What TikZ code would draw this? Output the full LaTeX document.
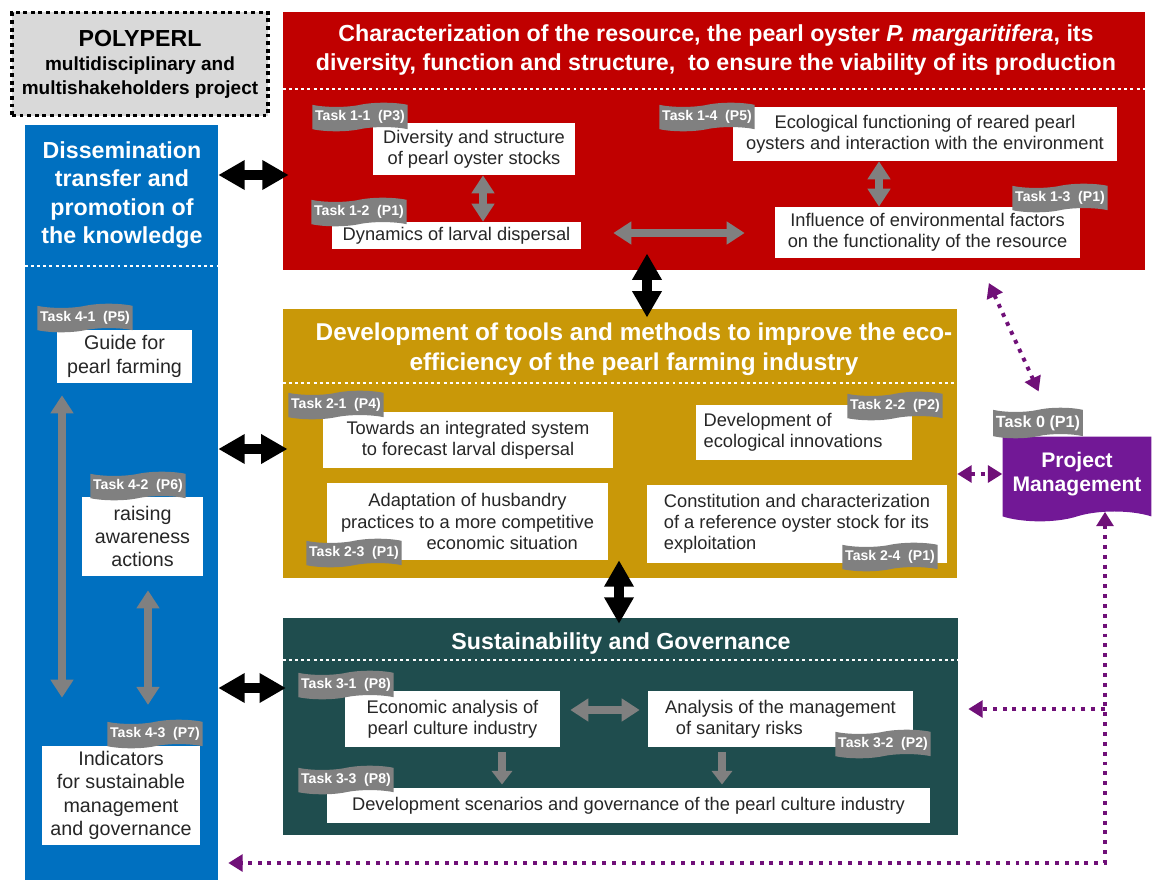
\documentclass[tikz,border=0pt]{standalone}
\usepackage{fontspec}
\setmainfont{Liberation Sans}
\usetikzlibrary{positioning,fit,shapes.symbols,arrows.meta}

\definecolor{resred}{RGB}{192,0,0}
\definecolor{toolgold}{RGB}{201,152,8}
\definecolor{govteal}{RGB}{31,77,78}
\definecolor{dissblue}{RGB}{0,112,192}
\definecolor{pmpurple}{RGB}{114,24,150}
\definecolor{linkpurple}{RGB}{112,16,120}
\definecolor{taggray}{RGB}{128,128,128}
\definecolor{polygray}{RGB}{217,217,217}

\begin{document}
\begin{tikzpicture}[x=0.025cm, y=-0.025cm,
	% Define styles for the panels, boxes, tags and arrows
	panel/.style={fill=#1, inner sep=0pt},
	head text/.style={text=white, align=center, font=\fontsize{16.5}{20}\selectfont\bfseries},
	task box/.style={fill=white, inner sep=0pt, align=center, text=black!85, font=\fontsize{13}{15}\selectfont},
	blue box/.style={task box, font=\fontsize{14}{16.5}\selectfont},
	task tag/.style={tape, tape bend top=in and out, tape bend bottom=in and out, tape bend height=3pt,
		fill=taggray, text=white, inner xsep=2pt, inner ysep=2.5pt, font=\fontsize{10}{11}\selectfont\bfseries},
	sep line/.style={white, line width=2.1pt, dash pattern=on 2.1pt off 2.3pt},
	link arrow/.style={{Triangle[length=0.66cm, width=0.7cm]}-{Triangle[length=0.66cm, width=0.7cm]}, line width=0.27cm, black},
	inner arrow/.style={{Triangle[length=0.45cm, width=0.55cm]}-{Triangle[length=0.45cm, width=0.55cm]}, line width=0.22cm, taggray},
	down arrow/.style={-{Triangle[length=0.34cm, width=0.5cm]}, line width=0.2cm, taggray},
	dot link/.style={linkpurple, line width=2.8pt, dash pattern=on 2.8pt off 4.2pt},
	dot tips/.style={{Triangle[length=0.36cm, width=0.42cm]}-{Triangle[length=0.36cm, width=0.42cm]}}
	]
	\useasboundingbox (0,0) rectangle (1156,880);
	
	% Define and place the panels
	\node[fill=polygray, draw=black, line width=2.8pt, dash pattern=on 2.8pt off 2.6pt, inner sep=0pt,
		minimum width=6.4cm, minimum height=2.575cm, align=center,
		font=\fontsize{13.5}{17}\selectfont\bfseries] (Poly) at (140,64)
		{{\fontsize{16.5}{20}\selectfont POLYPERL}\\multidisciplinary and\\multishakeholders project};
	\node[panel=resred, fit={(283,12)(1145,270)}] (Res) {};
	\node[panel=dissblue, fit={(25,125)(218,880)}] (Diss) {};
	\node[panel=toolgold, fit={(283,309)(957,578)}] (Tools) {};
	\node[panel=govteal, fit={(283,618)(958,835)}] (Gov) {};
	
	% Panel titles and dotted separators
	\node[head text] (ResTitle) at (716,50) {Characterization of the resource, the pearl oyster \textit{P. margaritifera}, its\\diversity, function and structure,\ \ to ensure the viability of its production};
	\node[head text] (DissTitle) at (122,195) {Dissemination\\transfer and\\promotion of\\the knowledge};
	\node[head text, font=\fontsize{17.3}{21}\selectfont\bfseries] (ToolsTitle) at (634,349) {Development of tools and methods to improve the eco-\\efficiency of the pearl farming industry};
	\node[head text] (GovTitle) at (621,643) {Sustainability and Governance};
	\draw[sep line] (Res.west |- 0,89) -- (Res.east |- 0,89);
	\draw[sep line] (Diss.west |- 0,266) -- (Diss.east |- 0,266);
	\draw[sep line] (Tools.west |- 0,383) -- (Tools.east |- 0,383);
	\draw[sep line] (Gov.west |- 0,660) -- (Gov.east |- 0,660);
	
	% Task boxes
	\node[task box, minimum width=5.05cm, minimum height=1.3cm] (T11) at (474,149) {Diversity and structure\\of pearl oyster stocks};
	\node[task box, minimum width=6.225cm, minimum height=0.675cm] (T12) at (456.5,235.5) {Dynamics of larval dispersal};
	\node[task box, minimum width=9.6cm, minimum height=1.35cm] (T14) at (925,134) {Ecological functioning of reared pearl\\oysters and interaction with the environment};
	\node[task box, minimum width=7.625cm, minimum height=1.275cm] (T13) at (927.5,232.5) {Influence of environmental factors\\on the functionality of the resource};
	\node[task box, minimum width=7.25cm, minimum height=1.4cm] (T21) at (468,440) {Towards an integrated system\\to forecast larval dispersal};
	\node[task box, minimum width=5.4cm, minimum height=1.375cm, align=left] (T22) at (804,432.5) {Development of\\ecological innovations\hspace*{1.2em}};
	\node[task box, minimum width=7.025cm, minimum height=1.925cm] (T23) at (467.5,521.5) {Adaptation of husbandry\\practices to a more competitive\\\hspace*{3.8em}economic situation};
	\node[task box, minimum width=7.5cm, minimum height=1.95cm, align=left] (T24) at (797,524) {Constitution and characterization\\of a reference oyster stock for its\\exploitation};
	\node[task box, minimum width=5.375cm, minimum height=1.4cm] (T31) at (452.5,719) {Economic analysis of\\pearl culture industry};
	\node[task box, minimum width=6.625cm, minimum height=1.4cm] (T32) at (780.5,719) {Analysis of the management\\of sanitary risks\hspace*{4.5em}};
	\node[task box, minimum width=15.075cm, minimum height=0.875cm] (T33) at (628.5,805.5) {Development scenarios and governance of the pearl culture industry};
	\node[blue box, minimum width=3.375cm, minimum height=1.325cm] (T41) at (124.5,356.5) {Guide for\\pearl farming};
	\node[blue box, minimum width=3.025cm, minimum height=1.975cm] (T42) at (142.5,536.5) {raising\\awareness\\actions};
	\node[blue box, minimum width=3.95cm, minimum height=2.475cm] (T43) at (121,795.5) {Indicators\\for sustainable\\management\\and governance};
	
	% Project management
	\node[tape, tape bend top=none, tape bend bottom=in and out, tape bend height=7pt, fill=pmpurple,
		minimum width=3.72cm, minimum height=2.12cm, text=white, align=center,
		font=\fontsize{15}{17}\selectfont\bfseries] (PM) at (1077,474) {Project\\Management};
	
	% Task tags
	\node[task tag] (G11) at (360,117) {Task 1-1\ \ (P3)};
	\node[task tag] (G12) at (359,212) {Task 1-2\ \ (P1)};
	\node[task tag] (G14) at (707,117) {Task 1-4\ \ (P5)};
	\node[task tag] (G13) at (1060,198) {Task 1-3\ \ (P1)};
	\node[task tag] (G21) at (336,405) {Task 2-1\ \ (P4)};
	\node[task tag] (G22) at (895,406) {Task 2-2\ \ (P2)};
	\node[task tag] (G23) at (354,553) {Task 2-3\ \ (P1)};
	\node[task tag] (G24) at (890,557) {Task 2-4\ \ (P1)};
	\node[task tag] (G31) at (346,685) {Task 3-1\ \ (P8)};
	\node[task tag] (G32) at (883,744) {Task 3-2\ \ (P2)};
	\node[task tag] (G33) at (346,780) {Task 3-3\ \ (P8)};
	\node[task tag] (G41) at (85,318) {Task 4-1\ \ (P5)};
	\node[task tag] (G42) at (138,486) {Task 4-2\ \ (P6)};
	\node[task tag] (G43) at (155,734) {Task 4-3\ \ (P7)};
	\node[task tag, font=\fontsize{11.5}{13}\selectfont\bfseries] (G0) at (1038,423) {Task 0 (P1)};
	
	% --- Draw the links between panels ---
	\draw[link arrow, shorten >=-0.15cm] (Diss.east |- 0,175) -- (Res.west |- 0,175);
	\draw[link arrow, shorten >=-0.12cm] (Diss.east |- 0,449) -- (Tools.west |- 0,449);
	\draw[link arrow, shorten >=-0.08cm] (Diss.east |- 0,688) -- (Gov.west |- 0,688);
	\draw[link arrow, shorten <=-0.42cm, shorten >=-0.22cm] (Res.south -| 647,0) -- (Tools.north -| 647,0);
	\draw[link arrow, shorten <=-0.45cm, shorten >=-0.15cm] (Tools.south -| 619,0) -- (Gov.north -| 619,0);
	
	% --- Draw the links between tasks ---
	\draw[inner arrow] (T11.south -| 483,0) -- (T12.north -| 483,0);
	\draw[inner arrow] (T14.south -| 879,0) -- (T13.north -| 879,0);
	\draw[inner arrow, shorten <=0.8cm, shorten >=0.75cm] (T12.east |- 0,233) -- (T13.west |- 0,233);
	\draw[inner arrow, shorten <=0.25cm, shorten >=0.2cm] (T31.east |- 0,710) -- (T32.west |- 0,710);
	\draw[down arrow, shorten <=0.12cm, shorten >=0.08cm] (T31.south -| 502,0) -- (T33.north -| 502,0);
	\draw[down arrow, shorten <=0.12cm, shorten >=0.08cm] (T32.south -| 722,0) -- (T33.north -| 722,0);
	\draw[inner arrow, shorten <=0.3cm, shorten >=1.2cm] (T41.south -| 62,0) -- (T43.north -| 62,0);
	\draw[inner arrow, shorten <=0.35cm, shorten >=1.02cm] (T42.south -| 148,0) -- (T43.north -| 148,0);
	
	% --- Draw the project management links ---
	\coordinate (LoopCorner) at (1105,863);
	\coordinate (LoopBranch) at (1105,709);
	\draw[dot link, dot tips] (Tools.east |- PM.west) -- (PM.west);
	\draw[dot link, dot tips, shorten <=0.35cm, shorten >=0.5cm] (Res.south -| 983,0) -- (G0.north -| 1047,0);
	\draw[dot link, dot tips, shorten >=0.25cm] (PM.south -| LoopCorner) -- (LoopCorner) -- (Diss.east |- LoopCorner);
	\draw[dot link, -{Triangle[length=0.36cm, width=0.42cm]}, shorten >=0.25cm] (LoopBranch) -- (Gov.east |- LoopBranch);
\end{tikzpicture}
\end{document}
